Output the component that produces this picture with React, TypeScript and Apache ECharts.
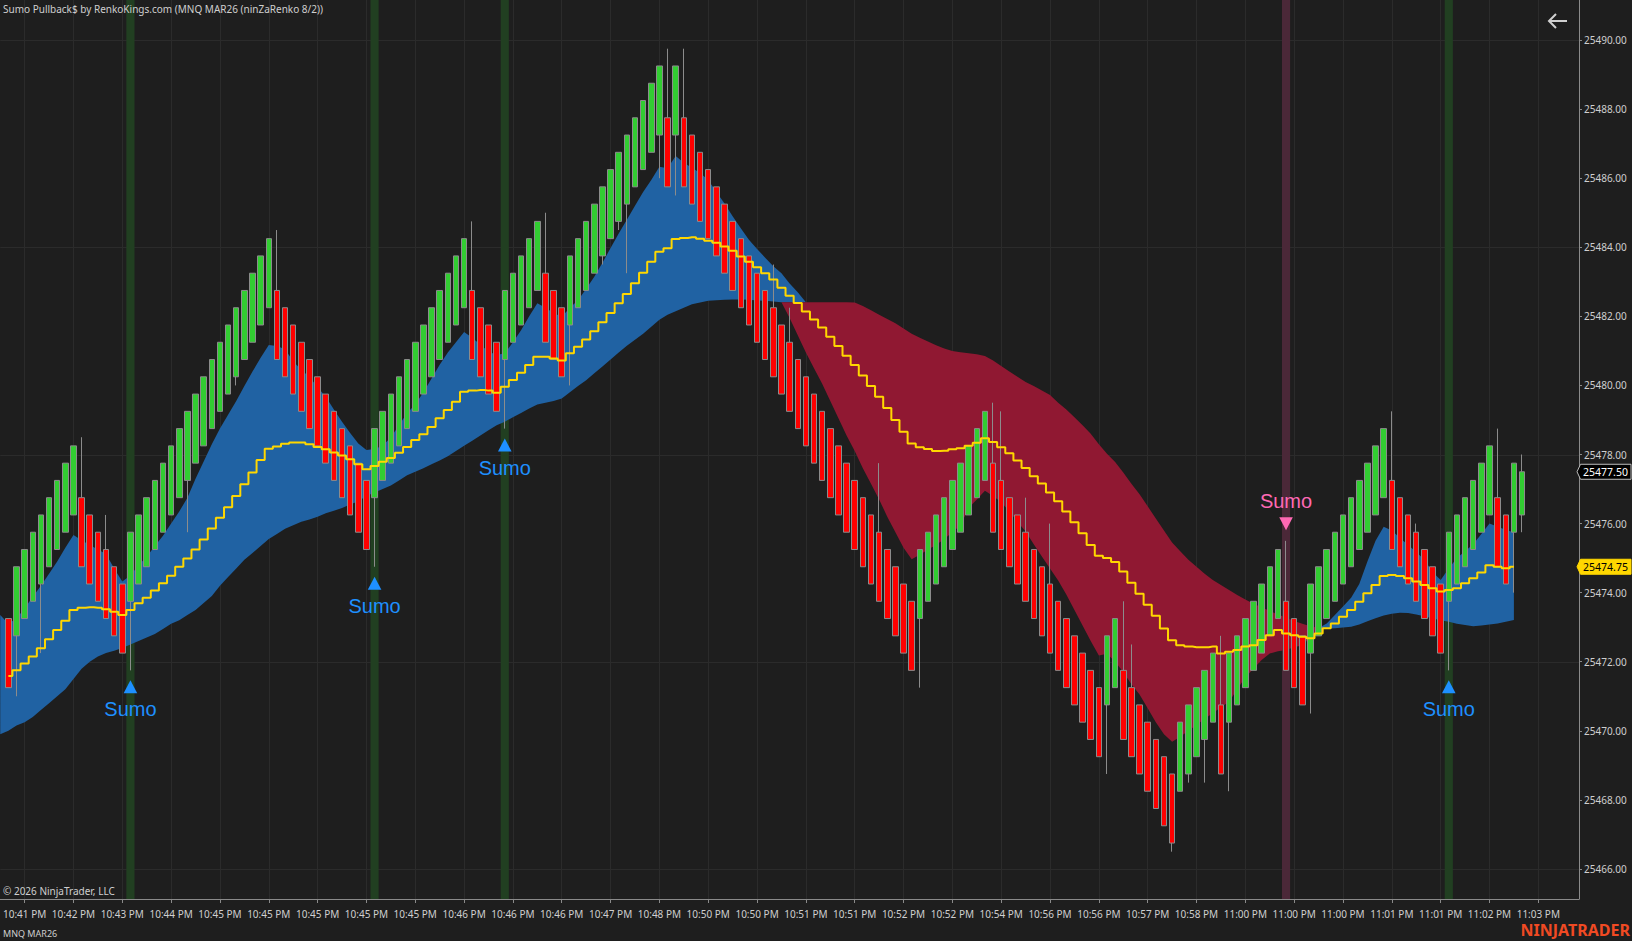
import React, { useEffect, useRef } from 'react';
import * as echarts from 'echarts';

// ---- tick labels (every 6 bars, starting at bar 2) ----
const timeLabels = [
  '10:41 PM', '10:42 PM', '10:43 PM', '10:44 PM', '10:45 PM', '10:45 PM', '10:45 PM', '10:45 PM',
  '10:45 PM', '10:46 PM', '10:46 PM', '10:46 PM', '10:47 PM', '10:48 PM', '10:50 PM', '10:50 PM',
  '10:51 PM', '10:51 PM', '10:52 PM', '10:52 PM', '10:54 PM', '10:56 PM', '10:56 PM', '10:57 PM',
  '10:58 PM', '11:00 PM', '11:00 PM', '11:00 PM', '11:01 PM', '11:01 PM', '11:02 PM', '11:03 PM',
];
const priceLabels = [25466, 25468, 25470, 25472, 25474, 25476, 25478, 25480, 25482, 25484, 25486, 25488, 25490];
const gridPrices = [25466, 25472, 25478, 25484, 25490];

// ---- renko bars ----
const opens = [
  25473.25,
  25472.75, 25473.25, 25473.75, 25474.25, 25474.75, 25475.25, 25475.75, 25476.25,
  25476.75, 25476.25, 25475.75, 25475.25, 25474.75, 25474.25,
  25473.75, 25474.25, 25474.75, 25475.25, 25475.75, 25476.25, 25476.75, 25477.25, 25477.75, 25478.25, 25478.75, 25479.25, 25479.75, 25480.25, 25480.75, 25481.25, 25481.75, 25482.25,
  25482.75, 25482.25, 25481.75, 25481.25, 25480.75, 25480.25, 25479.75, 25479.25, 25478.75, 25478.25, 25477.75, 25477.25,
  25476.75, 25477.25, 25477.75, 25478.25, 25478.75, 25479.25, 25479.75, 25480.25, 25480.75, 25481.25, 25481.75, 25482.25,
  25482.75, 25482.25, 25481.75, 25481.25,
  25480.75, 25481.25, 25481.75, 25482.25, 25482.75,
  25483.25, 25482.75, 25482.25,
  25481.75, 25482.25, 25482.75, 25483.25, 25483.75, 25484.25, 25484.75, 25485.25, 25485.75, 25486.25, 25486.75, 25487.25,
  25487.75,
  25487.25,
  25487.75, 25487.25, 25486.75, 25486.25, 25485.75, 25485.25, 25484.75, 25484.25, 25483.75, 25483.25, 25482.75, 25482.25, 25481.75, 25481.25, 25480.75, 25480.25, 25479.75, 25479.25, 25478.75, 25478.25, 25477.75, 25477.25, 25476.75, 25476.25, 25475.75, 25475.25, 25474.75, 25474.25, 25473.75,
  25473.25, 25473.75, 25474.25, 25474.75, 25475.25, 25475.75, 25476.25, 25476.75, 25477.25,
  25477.75, 25477.25, 25476.75, 25476.25, 25475.75, 25475.25, 25474.75, 25474.25, 25473.75, 25473.25, 25472.75, 25472.25, 25471.75, 25471.25,
  25470.75, 25471.25,
  25471.75, 25471.25, 25470.75, 25470.25, 25469.75, 25469.25, 25468.75,
  25468.25, 25468.75, 25469.25, 25469.75, 25470.25,
  25470.75,
  25470.25, 25470.75, 25471.25, 25471.75, 25472.25, 25472.75, 25473.25,
  25473.75, 25473.25, 25472.75,
  25472.25, 25472.75, 25473.25, 25473.75, 25474.25, 25474.75, 25475.25, 25475.75, 25476.25, 25476.75,
  25477.25, 25476.75, 25476.25, 25475.75, 25475.25, 25474.75, 25474.25,
  25473.75, 25474.25, 25474.75, 25475.25, 25475.75, 25476.25,
  25476.75, 25476.25,
  25475.75,
  25476.25,
];
const closes = [
  25471.25,
  25474.75, 25475.25, 25475.75, 25476.25, 25476.75, 25477.25, 25477.75, 25478.25,
  25474.75, 25474.25, 25473.75, 25473.25, 25472.75, 25472.25,
  25475.75, 25476.25, 25476.75, 25477.25, 25477.75, 25478.25, 25478.75, 25479.25, 25479.75, 25480.25, 25480.75, 25481.25, 25481.75, 25482.25, 25482.75, 25483.25, 25483.75, 25484.25,
  25480.75, 25480.25, 25479.75, 25479.25, 25478.75, 25478.25, 25477.75, 25477.25, 25476.75, 25476.25, 25475.75, 25475.25,
  25478.75, 25479.25, 25479.75, 25480.25, 25480.75, 25481.25, 25481.75, 25482.25, 25482.75, 25483.25, 25483.75, 25484.25,
  25480.75, 25480.25, 25479.75, 25479.25,
  25482.75, 25483.25, 25483.75, 25484.25, 25484.75,
  25481.25, 25480.75, 25480.25,
  25483.75, 25484.25, 25484.75, 25485.25, 25485.75, 25486.25, 25486.75, 25487.25, 25487.75, 25488.25, 25488.75, 25489.25,
  25485.75,
  25489.25,
  25485.75, 25485.25, 25484.75, 25484.25, 25483.75, 25483.25, 25482.75, 25482.25, 25481.75, 25481.25, 25480.75, 25480.25, 25479.75, 25479.25, 25478.75, 25478.25, 25477.75, 25477.25, 25476.75, 25476.25, 25475.75, 25475.25, 25474.75, 25474.25, 25473.75, 25473.25, 25472.75, 25472.25, 25471.75,
  25475.25, 25475.75, 25476.25, 25476.75, 25477.25, 25477.75, 25478.25, 25478.75, 25479.25,
  25475.75, 25475.25, 25474.75, 25474.25, 25473.75, 25473.25, 25472.75, 25472.25, 25471.75, 25471.25, 25470.75, 25470.25, 25469.75, 25469.25,
  25472.75, 25473.25,
  25469.75, 25469.25, 25468.75, 25468.25, 25467.75, 25467.25, 25466.75,
  25470.25, 25470.75, 25471.25, 25471.75, 25472.25,
  25468.75,
  25472.25, 25472.75, 25473.25, 25473.75, 25474.25, 25474.75, 25475.25,
  25471.75, 25471.25, 25470.75,
  25474.25, 25474.75, 25475.25, 25475.75, 25476.25, 25476.75, 25477.25, 25477.75, 25478.25, 25478.75,
  25475.25, 25474.75, 25474.25, 25473.75, 25473.25, 25472.75, 25472.25,
  25475.75, 25476.25, 25476.75, 25477.25, 25477.75, 25478.25,
  25474.75, 25474.25,
  25477.75,
  25477.5,
];
// [bar index, wick extreme]
const highWicks = [
  [9, 25478.5], [12, 25476.25], [33, 25484.5], [57, 25484.75], [66, 25485.0], [81, 25489.75], [83, 25489.75],
  [94, 25483.5], [96, 25482.25], [107, 25477.75], [121, 25479.5], [122, 25479.25], [125, 25476.75], [128, 25476.0],
  [137, 25473.75], [138, 25472.5], [149, 25472.75], [157, 25475.5], [170, 25479.25], [173, 25476.0], [183, 25478.75], [186, 25478.0],
];
const lowWicks = [
  [1, 25471.0], [4, 25472.25], [15, 25471.75], [22, 25475.75], [28, 25480.0], [45, 25474.75], [61, 25478.75], [69, 25480.0],
  [73, 25483.5], [75, 25484.5], [76, 25483.25], [80, 25486.0], [82, 25485.5], [112, 25471.25], [135, 25468.75], [143, 25466.5],
  [145, 25468.5], [147, 25468.5], [150, 25468.25], [160, 25470.5], [177, 25471.75], [185, 25474.0], [186, 25475.75],
];

// ---- cloud: slow line (from bar -1) and trend edges ----
const slowStart = -1;
const slowLine = [
  25469.9,
  25470.0, 25470.15, 25470.25, 25470.4, 25470.6, 25470.8, 25471.0, 25471.2, 25471.5, 25471.8,
  25472.0, 25472.15, 25472.25, 25472.32, 25472.4, 25472.5, 25472.6, 25472.7, 25472.8, 25472.95,
  25473.1, 25473.2, 25473.35, 25473.5, 25473.7, 25473.9, 25474.2, 25474.45, 25474.7, 25474.95,
  25475.15, 25475.35, 25475.55, 25475.7, 25475.85, 25475.95, 25476.05, 25476.12, 25476.2, 25476.3,
  25476.37, 25476.45, 25476.55, 25476.65, 25476.8, 25476.9, 25477.0, 25477.1, 25477.25, 25477.4,
  25477.5, 25477.6, 25477.72, 25477.83, 25477.95, 25478.1, 25478.25, 25478.4, 25478.55, 25478.7,
  25478.85, 25478.95, 25479.08, 25479.2, 25479.33, 25479.45, 25479.5, 25479.55, 25479.62, 25479.8,
  25479.98, 25480.15, 25480.35, 25480.55, 25480.75, 25480.95, 25481.15, 25481.32, 25481.5, 25481.7,
  25481.9, 25482.05, 25482.15, 25482.25, 25482.35, 25482.4, 25482.45, 25482.47, 25482.48, 25482.49,
  25482.49, 25482.48, 25482.46, 25482.45, 25482.43, 25482.41, 25482.41, 25482.41, 25482.41, 25482.41,
  25482.41, 25482.41, 25482.41, 25482.41, 25482.4, 25482.3, 25482.18, 25482.05, 25481.92, 25481.8,
  25481.65, 25481.5, 25481.38, 25481.27, 25481.16, 25481.07, 25481.0, 25480.96, 25480.93, 25480.9,
  25480.85, 25480.72, 25480.56, 25480.4, 25480.25, 25480.1, 25479.98, 25479.85, 25479.72, 25479.5,
  25479.3, 25479.08, 25478.85, 25478.6, 25478.3, 25478.02, 25477.78, 25477.48, 25477.15, 25476.85,
  25476.5, 25476.15, 25475.8, 25475.45, 25475.2, 25474.95, 25474.75, 25474.55, 25474.37, 25474.22,
  25474.08, 25473.93, 25473.8, 25473.68, 25473.58, 25473.47, 25473.37, 25473.28, 25473.18, 25473.1,
  25473.03, 25472.98, 25472.96, 25472.97, 25472.99, 25473.01, 25473.08, 25473.17, 25473.26, 25473.34,
  25473.39, 25473.42, 25473.41, 25473.37, 25473.32, 25473.25, 25473.2, 25473.16, 25473.1, 25473.06,
  25473.03, 25473.05, 25473.08, 25473.11, 25473.16, 25473.21,
];
const upEdgeAStart = -1;
const upEdgeA = [
  25473.35,
  25473.1, 25473.25, 25473.55, 25473.88, 25474.2, 25474.55, 25474.9, 25475.3, 25475.67, 25475.52,
  25475.38, 25475.25, 25475.12, 25474.7, 25474.32, 25474.5, 25474.8, 25475.04, 25475.35, 25475.65,
  25476.0, 25476.35, 25476.75, 25477.3, 25477.8, 25478.3, 25478.75, 25479.15, 25479.55, 25479.98,
  25480.4, 25480.8, 25481.17, 25481.14, 25481.05, 25480.7, 25480.45, 25480.25, 25479.95, 25479.67,
  25479.3, 25478.95, 25478.62, 25478.32, 25478.13, 25478.16, 25478.25, 25478.5, 25478.85, 25479.2,
  25479.45, 25479.8, 25480.2, 25480.6, 25480.95, 25481.25, 25481.55, 25481.38, 25481.18, 25480.98,
  25480.88, 25480.93, 25481.25, 25481.6, 25482.0, 25482.38, 25482.25, 25482.1, 25481.99, 25482.25,
  25482.47, 25482.8, 25483.15, 25483.55, 25483.98, 25484.4, 25484.8, 25485.2, 25485.6, 25485.95,
  25486.33, 25486.29, 25486.64, 25486.45, 25486.3, 25486.15, 25485.95, 25485.6, 25485.27, 25484.9,
  25484.55, 25484.22, 25483.95, 25483.7, 25483.45, 25483.25, 25482.95, 25482.7, 25482.41,
];
const downEdgeStart = 95;
const downEdge = [
  25482.41, 25481.95, 25481.45, 25480.95, 25480.5, 25480.05, 25479.55, 25479.05, 25478.55, 25478.1,
  25477.6, 25477.15, 25476.7, 25476.2, 25475.75, 25475.3, 25474.97, 25475.1, 25475.25, 25475.38,
  25475.55, 25475.75, 25475.95, 25476.45, 25476.7, 25476.95, 25476.8, 25476.62, 25476.35, 25476.05,
  25475.77, 25475.4, 25475.05, 25474.7, 25474.35, 25473.95, 25473.5, 25473.05, 25472.6, 25472.18,
  25472.23, 25472.0, 25471.7, 25471.35, 25471.05, 25470.65, 25470.25, 25469.9, 25469.68, 25469.83,
  25470.0, 25470.17, 25470.35, 25470.51, 25470.68, 25470.84, 25471.2, 25471.55, 25471.8, 25472.05,
  25472.24, 25472.3, 25472.34, 25472.42, 25472.48, 25472.7, 25472.98,
];
const upEdgeBStart = 161;
const upEdgeB = [
  25472.98, 25473.11, 25473.35, 25473.6, 25473.85, 25474.25, 25474.9, 25475.5, 25475.91, 25475.8,
  25475.58, 25475.38, 25475.18, 25474.95, 25474.6, 25474.37, 25474.7, 25475.0, 25475.2, 25475.4,
  25475.7, 25476.0, 25475.91, 25475.82, 25475.74,
];

// ---- stepped signal line (bars 0..185) ----
const signalLine = [
  25471.59, 25471.75, 25471.95, 25472.15, 25472.39, 25472.65, 25472.92, 25473.19, 25473.5, 25473.56,
  25473.58, 25473.56, 25473.52, 25473.45, 25473.35, 25473.5, 25473.69, 25473.85, 25474.06, 25474.27,
  25474.49, 25474.75, 25474.99, 25475.25, 25475.54, 25475.86, 25476.17, 25476.47, 25476.8, 25477.14,
  25477.48, 25477.84, 25478.17, 25478.23, 25478.31, 25478.35, 25478.35, 25478.3, 25478.22, 25478.15,
  25478.06, 25477.97, 25477.86, 25477.72, 25477.57, 25477.67, 25477.79, 25477.9, 25478.05, 25478.22,
  25478.42, 25478.59, 25478.8, 25479.05, 25479.29, 25479.53, 25479.82, 25479.85, 25479.87, 25479.85,
  25479.79, 25479.96, 25480.16, 25480.37, 25480.59, 25480.83, 25480.83, 25480.78, 25480.72, 25480.93,
  25481.12, 25481.33, 25481.57, 25481.83, 25482.1, 25482.38, 25482.65, 25482.96, 25483.26, 25483.58,
  25483.87, 25483.97, 25484.24, 25484.27, 25484.29, 25484.25, 25484.19, 25484.13, 25484.02, 25483.9,
  25483.73, 25483.58, 25483.42, 25483.25, 25483.07, 25482.83, 25482.6, 25482.39, 25482.14, 25481.91,
  25481.68, 25481.41, 25481.14, 25480.86, 25480.59, 25480.29, 25479.98, 25479.67, 25479.35, 25479.0,
  25478.66, 25478.32, 25478.21, 25478.16, 25478.1, 25478.11, 25478.15, 25478.18, 25478.25, 25478.34,
  25478.47, 25478.36, 25478.21, 25478.04, 25477.83, 25477.61, 25477.37, 25477.16, 25476.9, 25476.65,
  25476.35, 25476.04, 25475.72, 25475.38, 25475.07, 25475.0, 25474.89, 25474.61, 25474.29, 25473.97,
  25473.65, 25473.33, 25472.96, 25472.62, 25472.48, 25472.44, 25472.42, 25472.42, 25472.44, 25472.24,
  25472.29, 25472.34, 25472.44, 25472.48, 25472.63, 25472.77, 25472.92, 25472.82, 25472.77, 25472.72,
  25472.68, 25472.82, 25472.97, 25473.11, 25473.3, 25473.5, 25473.74, 25473.98, 25474.22, 25474.48,
  25474.51, 25474.48, 25474.42, 25474.32, 25474.22, 25474.13, 25474.03, 25474.08, 25474.13, 25474.27,
  25474.42, 25474.58, 25474.79, 25474.75, 25474.71, 25474.75,
];

// ---- signals ----
const sumoLongBars = [15, 45, 61, 177];
const sumoShortBars = [157];
const lastPrice = 25477.5;
const signalLast = 25474.75;

const SLOT_COUNT = 195; // slot = bar + 1 (slot 0 is the partly hidden previous bar)
const BG = '#1e1e1e';
const AXIS_TXT = '#cfcfcf';
const FONT = "'Segoe UI', 'Noto Sans', 'Open Sans', sans-serif";
const BLUE = '#1e90ff';
const PINK = '#ff69b4';

export default function App() {
  const ref = useRef<HTMLDivElement>(null);

  useEffect(() => {
    document.body.style.margin = '0';
    document.body.style.background = BG;
    const chart = echarts.init(ref.current!, null, { renderer: 'svg' });

    const categories: string[] = [];
    for (let k = 0; k < SLOT_COUNT; k++) {
      const b = k - 1;
      const t = b - 2;
      categories.push(t >= 0 && t % 6 === 0 && t / 6 < timeLabels.length ? timeLabels[t / 6] : '');
    }
    const isTick = (idx: number) => categories[idx] !== '';

    const candles = opens.map((o, i) => {
      const c = closes[i];
      let hi = Math.max(o, c);
      let lo = Math.min(o, c);
      const hw = highWicks.find((w) => w[0] === i);
      if (hw) hi = hw[1];
      const lw = lowWicks.find((w) => w[0] === i);
      if (lw) lo = lw[1];
      return [i + 1, o, c, lo, hi];
    });

    const cloudRuns = [
      { start: upEdgeAStart, edge: upEdgeA, color: '#2062a3' },
      { start: downEdgeStart, edge: downEdge, color: '#901832' },
      { start: upEdgeBStart, edge: upEdgeB, color: '#2062a3' },
    ];

    const sumoData = [
      ...sumoLongBars.map((b) => [b + 1, candles[b][3], 1]),
      ...sumoShortBars.map((b) => [b + 1, candles[b][4], -1]),
    ];
    const bandData = [
      ...sumoLongBars.map((b) => [b + 1, 25478, 0]),
      ...sumoShortBars.map((b) => [b + 1, 25478, 1]),
    ];

    const option: any = {
      animation: false,
      backgroundColor: BG,
      grid: { left: 0, right: 53, top: 0, bottom: 42, containLabel: false },
      xAxis: {
        type: 'category',
        data: categories,
        boundaryGap: false,
        axisLine: { show: true, lineStyle: { color: '#8a8a8a', width: 1 } },
        axisTick: { show: true, interval: (idx: number) => isTick(idx), length: 4, lineStyle: { color: '#8a8a8a' } },
        axisLabel: {
          interval: (idx: number) => isTick(idx),
          color: AXIS_TXT,
          fontSize: 10,
          fontFamily: FONT,
          margin: 10,
        },
        splitLine: { show: true, interval: (idx: number) => isTick(idx), lineStyle: { color: '#2b2b2b', width: 1 } },
      },
      yAxis: {
        type: 'value',
        position: 'right',
        min: 25465.13,
        max: 25491.16,
        axisLine: { show: true, lineStyle: { color: '#8a8a8a', width: 1 } },
        axisTick: { show: true, length: 3, customValues: priceLabels, lineStyle: { color: '#8a8a8a' } },
        axisLabel: {
          customValues: priceLabels,
          formatter: (v: number) => v.toFixed(2),
          color: AXIS_TXT,
          fontSize: 10,
          fontFamily: FONT,
          margin: 5,
        },
        splitLine: { show: false },
      },
      series: [
        {
          type: 'custom',
          name: 'hgrid',
          silent: true,
          z: 0,
          encode: { x: 0, y: 1 },
          data: gridPrices.map((p) => [0, p]),
          renderItem: (params: any, api: any) => {
            const cs = params.coordSys;
            const y = Math.round(api.coord([0, api.value(1)])[1]) + 0.5;
            return {
              type: 'line',
              shape: { x1: cs.x, y1: y, x2: cs.x + cs.width, y2: y },
              style: { stroke: '#2b2b2b', lineWidth: 1 },
            };
          },
        },
        {
          type: 'custom',
          name: 'signalBands',
          silent: true,
          z: 1,
          encode: { x: 0, y: 1 },
          data: bandData,
          renderItem: (params: any, api: any) => {
            const cs = params.coordSys;
            const x = api.coord([api.value(0), api.value(1)])[0];
            const w = api.size([1, 0])[0];
            return {
              type: 'rect',
              shape: { x: x - w / 2, y: cs.y, width: w, height: cs.height },
              style: { fill: api.value(2) === 0 ? '#213f21' : '#4b2838' },
            };
          },
        },
        {
          type: 'custom',
          name: 'cloud',
          silent: true,
          z: 2,
          encode: { x: 0, y: 1 },
          data: cloudRuns.map((r, i) => [r.start + 1, r.edge[0], i]),
          renderItem: (params: any, api: any) => {
            const run = cloudRuns[params.dataIndex];
            const top: number[][] = [];
            const bottom: number[][] = [];
            run.edge.forEach((v, j) => {
              const bar = run.start + j;
              top.push(api.coord([bar + 1, v]));
              bottom.push(api.coord([bar + 1, slowLine[bar - slowStart]]));
            });
            return {
              type: 'polygon',
              shape: { points: top.concat(bottom.reverse()) },
              style: { fill: run.color },
            };
          },
        },
        {
          type: 'candlestick',
          name: 'bars',
          z: 3,
          barWidth: 6,
          encode: { x: 0, y: [1, 2, 3, 4] },
          data: candles,
          itemStyle: {
            color: '#32cd32',
            color0: '#ff0000',
            borderColor: '#8c8c8c',
            borderColor0: '#8c8c8c',
            borderWidth: 1,
          },
        },
        {
          type: 'line',
          name: 'signal',
          z: 4,
          step: 'middle',
          showSymbol: false,
          silent: true,
          data: signalLine.map((v, i) => [i + 1, v]),
          lineStyle: { color: '#ffd700', width: 2 },
        },
        {
          type: 'custom',
          name: 'sumo',
          silent: true,
          z: 5,
          encode: { x: 0, y: 1 },
          data: sumoData,
          renderItem: (params: any, api: any) => {
            const p = api.coord([api.value(0), api.value(1)]);
            const dir = api.value(2);
            const col = dir > 0 ? BLUE : PINK;
            const x = p[0];
            const y = p[1];
            const tri =
              dir > 0
                ? [[x, y + 10], [x - 6.8, y + 23], [x + 6.8, y + 23]]
                : [[x - 6.8, y - 23.5], [x + 6.8, y - 23.5], [x, y - 10.5]];
            return {
              type: 'group',
              children: [
                { type: 'polygon', shape: { points: tri }, style: { fill: col } },
                {
                  type: 'text',
                  style: {
                    text: 'Sumo',
                    x,
                    y: dir > 0 ? y + 39 : y - 40,
                    fill: col,
                    fontSize: 20,
                    fontFamily: "'Liberation Sans', Arial, sans-serif",
                    align: 'center',
                    verticalAlign: 'middle',
                  },
                },
              ],
            };
          },
        },
        {
          type: 'custom',
          name: 'priceTags',
          silent: true,
          clip: false,
          z: 6,
          encode: { x: 0, y: 1 },
          data: [
            [0, lastPrice, 0],
            [0, signalLast, 1],
          ],
          renderItem: (params: any, api: any) => {
            const cs = params.coordSys;
            const y = api.coord([0, api.value(1)])[1];
            const x = cs.x + cs.width;
            const kind = api.value(2);
            const fill = kind === 0 ? '#000000' : '#ffd700';
            const stroke = kind === 0 ? '#bdbdbd' : '#ffd700';
            const txt = kind === 0 ? '#ffffff' : '#000000';
            return {
              type: 'group',
              children: [
                {
                  type: 'polygon',
                  shape: {
                    points: [
                      [x - 2, y],
                      [x + 1.5, y - 7.5],
                      [x + 52, y - 7.5],
                      [x + 52, y + 7.5],
                      [x + 1.5, y + 7.5],
                    ],
                  },
                  style: { fill, stroke, lineWidth: 1 },
                },
                {
                  type: 'text',
                  style: {
                    text: api.value(1).toFixed(2),
                    x: x + 26.5,
                    y: y + 0.5,
                    fill: txt,
                    fontSize: 10.5,
                    fontFamily: FONT,
                    align: 'center',
                    verticalAlign: 'middle',
                  },
                },
              ],
            };
          },
        },
      ],
      graphic: [
        {
          type: 'text',
          left: 3,
          top: 4,
          z: 20,
          style: {
            text: 'Sumo Pullback$ by RenkoKings.com (MNQ MAR26 (ninZaRenko 8/2))',
            fill: '#cfcfcf',
            fontSize: 10,
            fontFamily: FONT,
          },
        },
        {
          type: 'text',
          left: 3,
          top: 886,
          z: 20,
          style: { text: '© 2026 NinjaTrader, LLC', fill: '#cfcfcf', fontSize: 10, fontFamily: FONT },
        },
        {
          type: 'text',
          left: 3,
          top: 929,
          z: 20,
          style: { text: 'MNQ MAR26', fill: '#cfcfcf', fontSize: 9, fontFamily: FONT },
        },
        {
          type: 'text',
          right: 2,
          top: 922,
          z: 20,
          style: {
            text: 'NINJATRADER',
            fill: '#f04a23',
            fontSize: 16,
            fontWeight: 'bold',
            fontFamily: "'Noto Sans', 'Open Sans', sans-serif",
          },
        },
        {
          type: 'polyline',
          z: 20,
          shape: { points: [[1556, 14], [1549, 21], [1556, 28]] },
          style: { stroke: '#d0d0d0', lineWidth: 2, fill: 'none' },
        },
        {
          type: 'line',
          z: 20,
          shape: { x1: 1549, y1: 21, x2: 1567, y2: 21 },
          style: { stroke: '#d0d0d0', lineWidth: 2 },
        },
      ],
    };

    chart.setOption(option);
    return () => chart.dispose();
  }, []);

  return (
    <div
      ref={ref}
      style={{ position: 'fixed', left: 0, top: 0, width: 1632, height: 941, background: BG }}
    />
  );
}
